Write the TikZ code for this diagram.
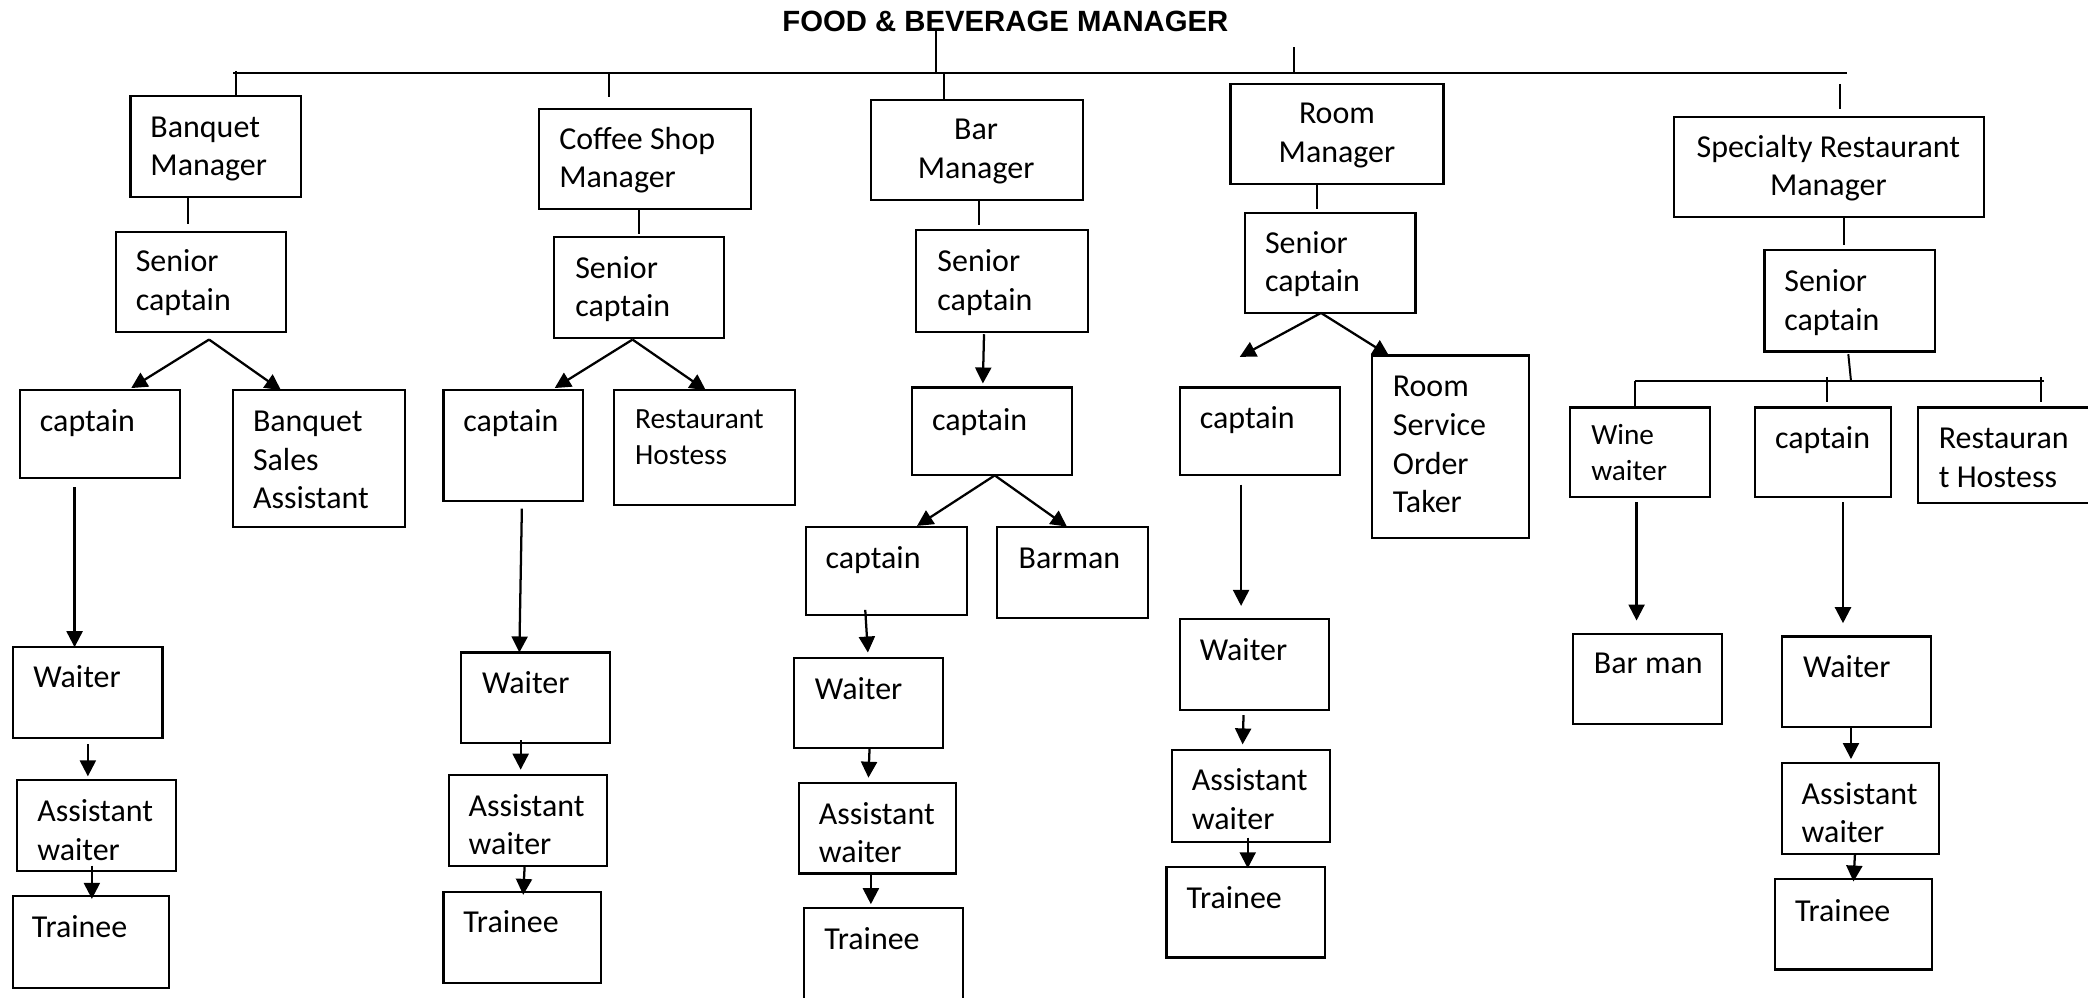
\documentclass[tikz,border=0pt]{standalone}
\usepackage{fontspec}
\setmainfont{Carlito}
\newfontfamily\titlefont{Liberation Sans}
\usetikzlibrary{arrows.meta,calc}
\newcommand\bodyfont{\fontsize{24}{29}\selectfont}
\newcommand\smallbody{\fontsize{22}{27}\selectfont}
\newcommand\lt[1]{\begin{tabular}[t]{@{}l@{}}#1\end{tabular}}
\newcommand\ct[1]{\begin{tabular}[t]{@{}c@{}}#1\end{tabular}}
\newcommand\bx[5]{\node[box, minimum width={#4-#2}, minimum height={#5-#3}] (#1) at ({(#2+#4)/2},{(#3+#5)/2}) {};}
\tikzset{
  box/.style={draw, rectangle, line width=1.6pt, inner sep=0pt, outer sep=0pt},
  txt/.style={inner sep=0pt, outer sep=0pt, font=\bodyfont},
  stxt/.style={inner sep=0pt, outer sep=0pt, font=\smallbody},
  ln/.style={line width=1.5pt},
  arr/.style={line width=1.7pt, -{Triangle[length=12pt,width=12pt]}},
}
\begin{document}
\begin{tikzpicture}[x=1pt,y=-1pt]
\useasboundingbox (0,0) rectangle (1568,749);

% title and top bar
\node[inner sep=0pt, anchor=base, font=\titlefont\bfseries\fontsize{22}{26}\selectfont] (title) at (755,24) {FOOD \& BEVERAGE MANAGER};
\coordinate (hl) at (175,55);
\coordinate (hr) at (1387,55);
\coordinate (tv) at (703,22);
\draw[ln] (hl) -- (hr);
\draw[ln] (tv) -- (tv |- hl);

% ---------- column 1: Banquet ----------
\bx{bm}{98}{72}{226}{148}
\bx{sc1}{87}{174}{215}{249}
\bx{cap1}{15}{293}{135}{359}
\bx{bsa}{175}{293}{304}{396}
\bx{w1}{10}{486}{122}{554}
\bx{aw1}{13}{586}{132}{654}
\bx{tr1}{10}{673}{127}{742}
\node[txt, anchor=base west] (bm-t) at (113,103) {\lt{Banquet\\Manager}};
\node[txt, anchor=base west] (sc1-t) at (102,204) {\lt{Senior\\captain}};
\node[txt, anchor=base west] (cap1-t) at (30,324) {captain};
\node[txt, anchor=base west] (bsa-t) at (190,324) {\lt{Banquet\\Sales\\Assistant}};
\node[txt, anchor=base west] (w1-t) at (25,516) {Waiter};
\node[txt, anchor=base west] (aw1-t) at (28,617) {\lt{Assistant\\waiter}};
\node[txt, anchor=base west] (tr1-t) at (24,704) {Trainee};

% ---------- column 2: Coffee Shop ----------
\bx{csm}{405}{82}{564}{157}
\bx{sc2}{416}{178}{544}{254}
\bx{cap2}{333}{293}{438}{376}
\bx{rh2}{461}{293}{597}{379}
\bx{w2}{346}{490}{458}{558}
\bx{aw2}{337}{582}{456}{650}
\bx{tr2}{333}{670}{451}{738}
\node[txt, anchor=base west] (csm-t) at (420,112) {\lt{Coffee Shop\\Manager}};
\node[txt, anchor=base west] (sc2-t) at (432,209) {\lt{Senior\\captain}};
\node[txt, anchor=base west] (cap2-t) at (348,324) {captain};
\node[stxt, anchor=base west] (rh2-t) at (477,322) {\lt{Restaurant\\Hostess}};
\node[txt, anchor=base west] (w2-t) at (362,521) {Waiter};
\node[txt, anchor=base west] (aw2-t) at (352,613) {\lt{Assistant\\waiter}};
\node[txt, anchor=base west] (tr2-t) at (348,700) {Trainee};

% ---------- column 3: Bar ----------
\bx{barm}{654}{75}{813}{150}
\bx{sc3}{688}{173}{817}{249}
\bx{cap3}{685}{291}{805}{357}
\bx{cap3b}{605}{396}{726}{462}
\bx{barman}{749}{396}{862}{464}
\bx{w3}{596}{494}{708}{562}
\bx{aw3}{600}{588}{718}{656}
\bx{tr3}{604}{682}{723}{765}
\node[txt, anchor=base] (barm-t) at (733,105) {\ct{Bar\\Manager}};
\node[txt, anchor=base west] (sc3-t) at (704,204) {\lt{Senior\\captain}};
\node[txt, anchor=base west] (cap3-t) at (700,323) {captain};
\node[txt, anchor=base west] (cap3b-t) at (620,427) {captain};
\node[txt, anchor=base west] (barman-t) at (765,427) {Barman};
\node[txt, anchor=base west] (w3-t) at (612,525) {Waiter};
\node[txt, anchor=base west] (aw3-t) at (615,619) {\lt{Assistant\\waiter}};
\node[txt, anchor=base west] (tr3-t) at (619,713) {Trainee};

% ---------- column 4: Room ----------
\bx{rm}{924}{63}{1084}{138}
\bx{sc4}{935}{160}{1063}{235}
\bx{cap4}{886}{291}{1006}{357}
\bx{rso}{1030}{267}{1148}{404}
\bx{w4}{886}{465}{998}{533}
\bx{aw4}{880}{563}{999}{632}
\bx{tr4}{876}{651}{995}{719}
\node[txt, anchor=base] (rm-t) at (1004,93) {\ct{Room\\Manager}};
\node[txt, anchor=base west] (sc4-t) at (950,190) {\lt{Senior\\captain}};
\node[txt, anchor=base west] (cap4-t) at (901,322) {captain};
\node[txt, anchor=base west] (rso-t) at (1046,298) {\lt{Room\\Service\\Order\\Taker}};
\node[txt, anchor=base west] (w4-t) at (901,496) {Waiter};
\node[txt, anchor=base west] (aw4-t) at (895,594) {\lt{Assistant\\waiter}};
\node[txt, anchor=base west] (tr4-t) at (891,682) {Trainee};

% ---------- column 5: Specialty ----------
\bx{srm}{1257}{88}{1490}{163}
\bx{sc5}{1325}{188}{1453}{264}
\bx{ww}{1179}{306}{1284}{373}
\bx{cap5}{1318}{306}{1420}{373}
\bx{rh5}{1440}{306}{1580}{378}
\bx{bar5}{1181}{476}{1293}{544}
\bx{w5}{1338}{478}{1450}{546}
\bx{aw5}{1338}{573}{1456}{641}
\bx{tr5}{1333}{660}{1451}{728}
\node[txt, anchor=base] (srm-t) at (1373,118) {\ct{Specialty Restaurant\\Manager}};
\node[txt, anchor=base west] (sc5-t) at (1340,219) {\lt{Senior\\captain}};
\node[stxt, anchor=base west] (ww-t) at (1195,334) {\lt{Wine\\waiter}};
\node[txt, anchor=base west] (cap5-t) at (1333,337) {captain};
\node[txt, anchor=base west] (rh5-t) at (1456,337) {\lt{Restauran\\t Hostess}};
\node[txt, anchor=base west] (bar5-t) at (1197,506) {Bar man};
\node[txt, anchor=base west] (w5-t) at (1354,509) {Waiter};
\node[txt, anchor=base west] (aw5-t) at (1353,604) {\lt{Assistant\\waiter}};
\node[txt, anchor=base west] (tr5-t) at (1348,692) {Trainee};

% ---------- ticks from the top bar ----------
\draw[ln] (bm.north -| 177,0) -- ++(0,-19);
\draw[ln] (hl -| 457,0) -- ++(0,18);
\draw[ln] (barm.north -| 709,0) -- ++(0,-21);
\draw[ln] (hl -| 972,0) -- ++(0,-20);
\draw[ln] (srm.north -| 1382,0) ++(0,-25) -- ++(0,19);

% ---------- column 1 connectors ----------
\draw[ln] (bm.south -| 141,0) -- ++(0,20);
\coordinate (ap1) at (157,255);
\draw[arr, shorten >=3pt] (ap1) -- (cap1.north -| 96,0);
\draw[arr] (ap1) -- (bsa.north -| 211,0);
\draw[arr, shorten <=7pt] (cap1.south -| 56,0) -- (w1.north -| 56,0);
\draw[arr, shorten <=5pt, shorten >=3pt] (w1.south -| 66,0) -- (aw1.north -| 66,0);
\draw[arr, shorten <=-4pt, shorten >=-2pt] (aw1.south -| 69,0) -- (tr1.north -| 69,0);

% ---------- column 2 connectors ----------
\draw[ln] (csm.south -| 480,0) -- ++(0,19);
\coordinate (ap2) at (475,255);
\draw[arr, shorten >=3pt] (ap2) -- (cap2.north -| 414,0);
\draw[arr] (ap2) -- (rh2.north -| 530,0);
\draw[arr, shorten <=6pt] (cap2.south -| 392,0) -- (w2.north -| 390,0);
\draw[arr, shorten <=-2pt, shorten >=4pt] (w2.south -| 391,0) -- (aw2.north -| 391,0);
\draw[arr, shorten >=-2pt] (aw2.south -| 394,0) -- (tr2.north -| 393,0);

% ---------- column 3 connectors ----------
\draw[ln] (barm.south -| 735,0) -- ++(0,19);
\draw[arr, shorten <=2pt, shorten >=3pt] (sc3.south -| 739,0) -- (cap3.north -| 738,0);
\coordinate (ap3) at (cap3.south -| 747,0);
\draw[arr, shorten >=2pt] (ap3) -- (cap3b.north -| 687,0);
\draw[arr, shorten >=1pt] (ap3) -- (barman.north -| 802,0);
\draw[arr, shorten <=-4pt, shorten >=4pt] (cap3b.south -| 650,0) -- (w3.north -| 652,0);
\draw[arr, shorten >=4pt] (w3.south -| 653,0) -- (aw3.north -| 652,0);
\draw[arr, shorten >=3pt] (aw3.south -| 654,0) -- (tr3.north -| 654,0);

% ---------- column 4 connectors ----------
\draw[ln] (rm.south -| 989,0) -- ++(0,19);
\coordinate (ap4) at (992,235);
\coordinate (l4) at (931,268);
\draw[arr] (ap4) -- (l4);
\draw[arr] (ap4) -- (rso.north -| 1043,0);
\draw[arr, shorten <=7pt, shorten >=10pt] (cap4.south -| 932,0) -- (w4.north -| 932,0);
\draw[arr, shorten <=4pt, shorten >=4pt] (w4.south -| 934,0) -- (aw4.north -| 933,0);
\draw[arr, shorten <=-3pt, shorten >=-1pt] (aw4.south -| 937,0) -- (tr4.north -| 937,0);

% ---------- column 5 connectors ----------
\draw[ln] (srm.south -| 1385,0) -- ++(0,21);
\coordinate (hbl) at (1228,286);
\coordinate (hbr) at (1535,286);
\draw[ln] (hbl) -- (hbr);
\draw[ln] (sc5.south -| 1388,0) ++(0,2) -- (hbl -| 1390,0);
\draw[ln] (hbl) -- (ww.north -| hbl);
\draw[ln] (hbl -| 1372,0) ++(0,-3) -- ++(0,19);
\draw[ln] (hbl -| 1533,0) ++(0,-3) -- ++(0,19);
\draw[arr, shorten <=4pt, shorten >=10pt] (ww.south -| 1229,0) -- (bar5.north -| 1229,0);
\draw[arr, shorten <=4pt, shorten >=10pt] (cap5.south -| 1384,0) -- (w5.north -| 1384,0);
\draw[arr, shorten >=3pt] (w5.south -| 1390,0) -- (aw5.north -| 1390,0);
\draw[arr, shorten >=-2pt] (aw5.south -| 1393,0) -- (tr5.north -| 1392,0);
\end{tikzpicture}
\end{document}
